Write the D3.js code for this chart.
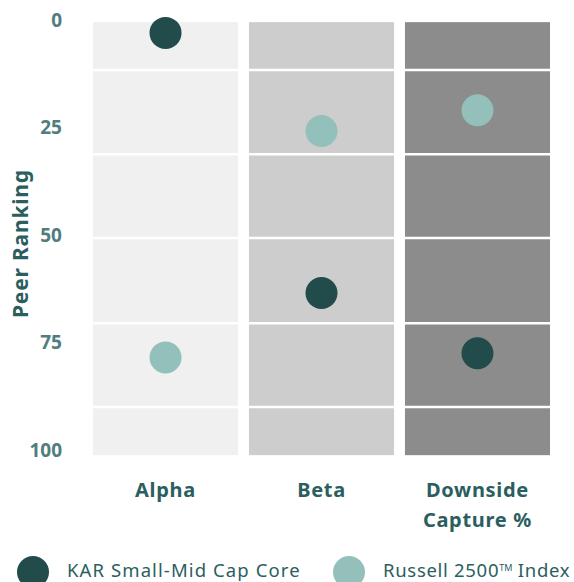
<!DOCTYPE html>
<html>
<head>
<meta charset="utf-8">
<script src="https://cdn.jsdelivr.net/npm/d3@7"></script>
<style>
  body { margin: 0; background: #fff; }
  text { font-family: "Noto Sans", sans-serif; }
</style>
</head>
<body>
<div id="chart"></div>
<script>
// categories and values (peer ranking, 0 = best)
const categories = ["Alpha", "Beta", "Downside Capture %"];
const categoryLines = [["Alpha"], ["Beta"], ["Downside", "Capture %"]];
const karValues = [3, 63.5, 77.5];
const russellValues = [78.5, 25.8, 21];
const tickValues = [0, 25, 50, 75, 100];
const gridValues = [11.6, 31.2, 50.7, 70.5, 90];
const panelExtent = [0.5, 101.2];
const seriesNames = ["KAR Small-Mid Cap Core", "Russell 2500"];

const width = 574;
const height = 582;

const panelColors = ["#f0f0f0", "#cdcdcd", "#8c8c8c"];
const darkDot = "#224b4c";
const lightDot = "#93c0ba";
const tealText = "#2b5e5f";
const tickText = "#507d7e";

const svg = d3
  .select("#chart")
  .append("svg")
  .attr("width", width)
  .attr("height", height);

// scales
const x = d3
  .scaleBand()
  .domain(categories)
  .range([93, 550])
  .paddingInner(0.07);

const y = d3.scaleLinear().domain([0, 100]).range([20, 450]);

// column panels
svg
  .selectAll("rect.panel")
  .data(categories)
  .enter()
  .append("rect")
  .attr("class", "panel")
  .attr("x", (d) => x(d))
  .attr("y", y(panelExtent[0]))
  .attr("width", x.bandwidth())
  .attr("height", y(panelExtent[1]) - y(panelExtent[0]))
  .attr("fill", (d, i) => panelColors[i]);

// white row separators
svg
  .selectAll("line.grid")
  .data(gridValues)
  .enter()
  .append("line")
  .attr("class", "grid")
  .attr("x1", x.range()[0])
  .attr("x2", x.range()[1])
  .attr("y1", (d) => y(d))
  .attr("y2", (d) => y(d))
  .attr("stroke", "#fff")
  .attr("stroke-width", 2.5);

// tick labels
svg
  .selectAll("text.tick")
  .data(tickValues)
  .enter()
  .append("text")
  .attr("class", "tick")
  .attr("x", 62)
  .attr("y", (d) => y(d))
  .attr("dy", "0.36em")
  .attr("text-anchor", "end")
  .attr("fill", tickText)
  .attr("font-family", "Roboto, sans-serif")
  .attr("font-size", 19)
  .attr("font-weight", 700)
  .text((d) => d);

// y title
svg
  .append("text")
  .attr("transform", `translate(28, ${y(52)}) rotate(-90)`)
  .attr("text-anchor", "middle")
  .attr("fill", tealText)
  .attr("font-size", 21)
  .attr("font-weight", 700)
  .attr("letter-spacing", 0.8)
  .text("Peer Ranking");

// category labels
const catLabels = svg
  .selectAll("text.cat")
  .data(categories)
  .enter()
  .append("text")
  .attr("class", "cat")
  .attr("text-anchor", "middle")
  .attr("fill", tealText)
  .attr("font-size", 20)
  .attr("font-weight", 700)
  .attr("letter-spacing", 0.7)
  .attr("x", (d) => x(d) + x.bandwidth() / 2)
  .attr("y", 497);

catLabels
  .selectAll("tspan")
  .data((d, i) => categoryLines[i].map((t) => ({ t, cx: x(d) + x.bandwidth() / 2 })))
  .enter()
  .append("tspan")
  .attr("x", (d) => d.cx)
  .attr("dy", (d, i) => (i === 0 ? 0 : 30))
  .text((d) => d.t);

// dots
const dotR = 16;
svg
  .selectAll("circle.russell")
  .data(russellValues)
  .enter()
  .append("circle")
  .attr("class", "russell")
  .attr("cx", (d, i) => x(categories[i]) + x.bandwidth() / 2)
  .attr("cy", (d) => y(d))
  .attr("r", dotR)
  .attr("fill", lightDot);

svg
  .selectAll("circle.kar")
  .data(karValues)
  .enter()
  .append("circle")
  .attr("class", "kar")
  .attr("cx", (d, i) => x(categories[i]) + x.bandwidth() / 2)
  .attr("cy", (d) => y(d))
  .attr("r", dotR)
  .attr("fill", darkDot);

// legend
const legend = svg.append("g").attr("transform", "translate(0, 572)");
const legendItems = [
  { name: seriesNames[0], color: darkDot, x: 33, spacing: 1.1 },
  { name: seriesNames[1], color: lightDot, x: 349, spacing: 0.7 },
];

legendItems.forEach((item, i) => {
  legend
    .append("circle")
    .attr("cx", item.x)
    .attr("cy", 0)
    .attr("r", dotR)
    .attr("fill", item.color);
  const t = legend
    .append("text")
    .attr("x", item.x + 34)
    .attr("y", -2)
    .attr("dy", "0.36em")
    .attr("fill", tealText)
    .attr("font-size", 18.5)
    .attr("letter-spacing", item.spacing)
    .text(item.name);
  if (i === 1) {
    t.append("tspan")
      .attr("baseline-shift", "super")
      .attr("font-size", 9)
      .attr("letter-spacing", 0)
      .text("TM");
    t.append("tspan").text(" Index");
  }
});
</script>
</body>
</html>
